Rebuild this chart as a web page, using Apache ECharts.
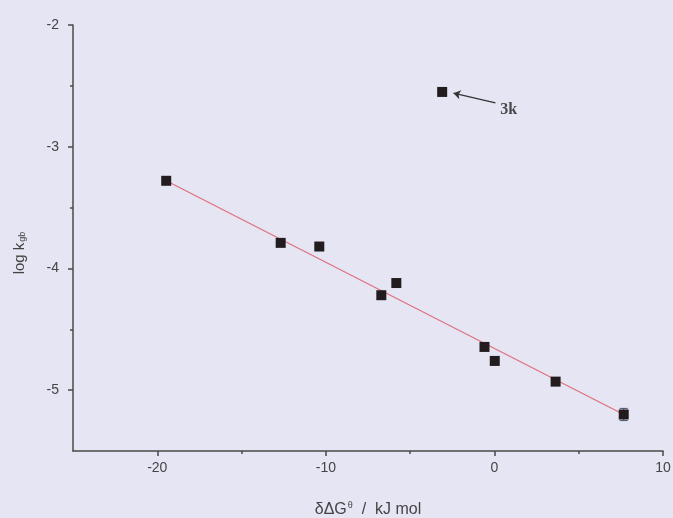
<!DOCTYPE html>
<html>
<head>
<meta charset="utf-8">
<script src="https://cdn.jsdelivr.net/npm/echarts@6/dist/echarts.min.js"></script>
<style>
html,body{margin:0;padding:0;background:#e5e5f3;}
#c{width:673px;height:518px;}
</style>
</head>
<body>
<div id="c"></div>
<script>
// data
var xVals = [-19.47, -12.68, -10.39, -6.71, -5.82, -0.59, 0.02, 3.63, 7.67];
var yVals = [-3.28, -3.79, -3.82, -4.22, -4.12, -4.645, -4.76, -4.93, -5.20];
var errVals = [0, 0, 0, 0, 0, 0, 0, 0, 0.05];
var outlierX = [-3.10];
var outlierY = [-2.55];
var outlierLabel = ['3k'];
var fitX = [-19.47, 7.67];
var fitY = [-3.28, -5.20];
var arrowFrom = [0.06, -2.64];
var arrowTo = [-2.43, -2.56];
var xMajor = [-20, -10, 0, 10];
var xMinor = [-15, -5, 5];
var yMajor = [-5, -4, -3, -2];
var yMinor = [-4.5, -3.5, -2.5];

var pts = xVals.map(function(x, i){ return [x, yVals[i]]; });
var errData = xVals.map(function(x, i){ return [x, yVals[i], errVals[i]]; }).filter(function(d){return d[2] > 0;});
var fitData = fitX.map(function(x, i){ return [x, fitY[i]]; });
var outData = outlierX.map(function(x, i){ return [x, outlierY[i]]; });

var axisCol = '#4a4a4a';
var chart = echarts.init(document.getElementById('c'));
chart.setOption({
  backgroundColor: '#e5e5f3',
  animation: false,
  grid: {left: 73, right: 10, top: 25, bottom: 67, containLabel: false, outerBoundsMode: 'none'},
  xAxis: [{
    type: 'value', min: -25, max: 10,
    axisLine: {onZero: false, lineStyle: {color: axisCol, width: 1.5}},
    axisTick: {show: true, customValues: xMajor, length: 5, lineStyle: {color: axisCol, width: 1.5}},
    axisLabel: {customValues: xMajor, color: '#444', fontSize: 14, fontFamily: 'Liberation Sans, Arial', margin: 10},
    splitLine: {show: false},
    name: '{a|δΔG}{s|θ}{a|  /  kJ mol}',
    nameLocation: 'middle', nameGap: 50,
    nameTextStyle: {rich: {
      a: {fontSize: 16, color: '#444', fontFamily: 'Liberation Sans, Arial'},
      s: {fontSize: 9, color: '#444', fontFamily: 'Liberation Sans, Arial', verticalAlign: 'top', padding: [0,0,9,1]}
    }}
  }, {
    type: 'value', min: -25, max: 10, position: 'bottom',
    axisLine: {show: false, onZero: false},
    axisTick: {show: true, customValues: xMinor, length: 3, lineStyle: {color: axisCol, width: 1.5}},
    axisLabel: {show: false}, splitLine: {show: false}
  }],
  yAxis: [{
    type: 'value', min: -5.5, max: -2,
    axisLine: {onZero: false, lineStyle: {color: axisCol, width: 1.5}},
    axisTick: {show: true, customValues: yMajor, length: 5, lineStyle: {color: axisCol, width: 1.5}},
    axisLabel: {customValues: yMajor, color: '#444', fontSize: 14, fontFamily: 'Liberation Sans, Arial', margin: 14},
    splitLine: {show: false},
    name: '{a|log k}{s|gb}',
    nameLocation: 'middle', nameGap: 46, nameRotate: 90,
    nameTextStyle: {padding: [0, 30, 0, 0], rich: {
      a: {fontSize: 15, color: '#444', fontFamily: 'Liberation Sans, Arial'},
      s: {fontSize: 9, color: '#444', fontFamily: 'Liberation Sans, Arial', verticalAlign: 'bottom', padding: [6,0,0,1]}
    }}
  }, {
    type: 'value', min: -5.5, max: -2, position: 'left',
    axisLine: {show: false, onZero: false},
    axisTick: {show: true, customValues: yMinor, length: 3, lineStyle: {color: axisCol, width: 1.5}},
    axisLabel: {show: false}, splitLine: {show: false}
  }],
  series: [{
    type: 'line', data: fitData, showSymbol: false, symbol: 'none',
    lineStyle: {color: '#e0707c', width: 1.2}, z: 2
  }, {
    type: 'custom', data: errData, z: 3,
    renderItem: function(params, api){
      var x = api.value(0), y = api.value(1), e = api.value(2);
      var top = api.coord([x, y + e]), bot = api.coord([x, y - e]);
      var w = 4;
      return {type: 'group', children: [
        {type: 'line', shape: {x1: top[0], y1: top[1], x2: bot[0], y2: bot[1]}, style: {stroke: '#4a5570', lineWidth: 1}},
        {type: 'line', shape: {x1: top[0]-w, y1: top[1], x2: top[0]+w, y2: top[1]}, style: {stroke: '#4a5570', lineWidth: 1}},
        {type: 'line', shape: {x1: bot[0]-w, y1: bot[1], x2: bot[0]+w, y2: bot[1]}, style: {stroke: '#4a5570', lineWidth: 1}}
      ]};
    }
  }, {
    type: 'scatter', data: pts.concat(outData), symbol: 'rect', symbolSize: 10,
    itemStyle: {color: '#231c1e', opacity: 1}, z: 4,
    markLine: {
      silent: true, symbol: ['none', 'arrow'], symbolSize: 7,
      lineStyle: {color: '#333', width: 1.2, type: 'solid'},
      label: {show: false},
      data: [[{coord: arrowFrom}, {coord: arrowTo}]]
    }
  }, {
    type: 'scatter', symbolSize: 0, z: 5,
    data: outlierX.map(function(x, i){ return {value: [x + 3.45, outlierY[i] - 0.15], name: outlierLabel[i]}; }),
    label: {show: true, position: 'inside', formatter: '{b}', color: '#222',
      fontSize: 16, fontWeight: 'bold', fontFamily: 'Liberation Serif, Times New Roman', align: 'left'}
  }]
});
</script>
</body>
</html>
